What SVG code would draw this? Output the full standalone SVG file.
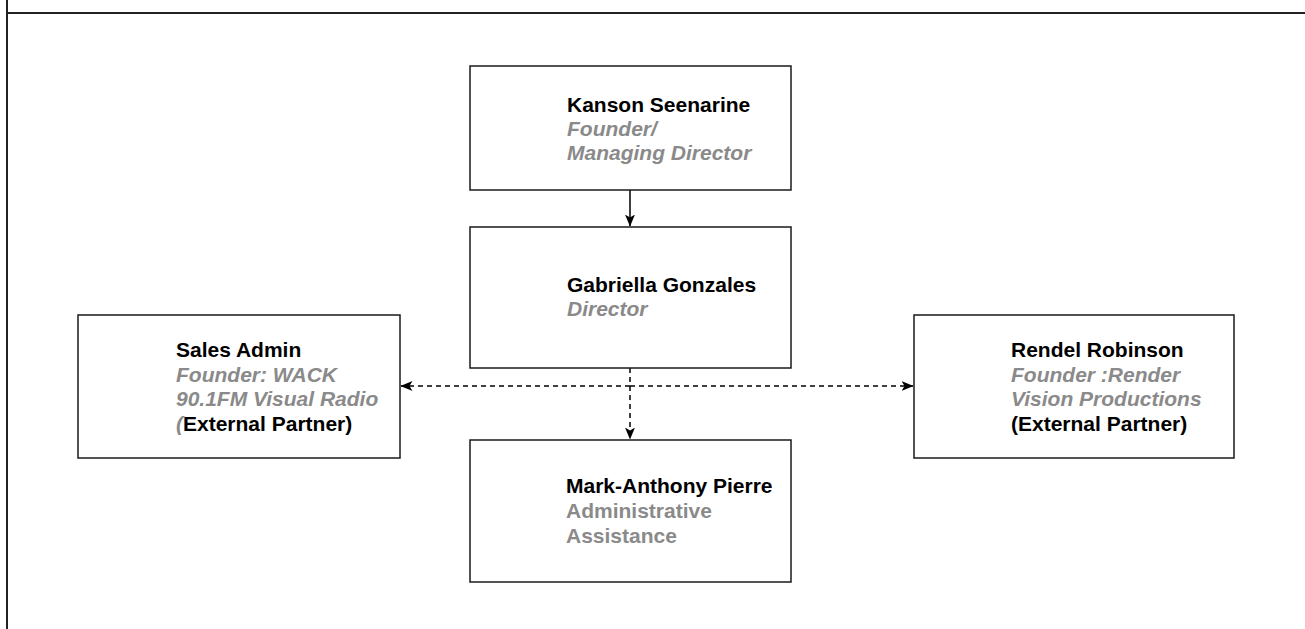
<svg xmlns="http://www.w3.org/2000/svg" width="1305" height="629" viewBox="0 0 1305 629">
<style>
.box{fill:#fff;stroke:#1a1a1a;stroke-width:1.5}
.t{font-family:"Liberation Sans",Arial,Helvetica,sans-serif;font-size:21px;font-weight:bold}
.name{fill:#000}
.role{fill:#8a8a8a;font-style:italic}
.role2{fill:#8a8a8a}
.ext{fill:#000;font-style:normal}
.edge{fill:none;stroke:#000;stroke-width:1.5}
.dash{stroke-dasharray:5 4}
.frame{fill:none;stroke:#222;stroke-width:2}
</style>
<defs>
<marker id="arr" viewBox="0 0 12 10" refX="11.5" refY="5" markerWidth="12" markerHeight="10" markerUnits="userSpaceOnUse" orient="auto">
<path d="M0,0 L12,5 L0,10 L3,5 z" fill="#000"/>
</marker>
</defs>
<g id="frame">
<line class="frame" x1="7" y1="0" x2="7" y2="629"/>
<line class="frame" x1="6" y1="13" x2="1305" y2="13"/>
</g>
<g id="connectors">
<line class="edge" x1="630" y1="190" x2="630" y2="226" marker-end="url(#arr)"/>
<line class="edge dash" x1="630" y1="368" x2="630" y2="439" marker-end="url(#arr)"/>
<line class="edge dash" x1="630" y1="386" x2="401" y2="386" marker-end="url(#arr)"/>
<line class="edge dash" x1="630" y1="386" x2="913" y2="386" marker-end="url(#arr)"/>
</g>
<g id="kanson">
<rect class="box" x="470" y="66" width="321" height="124"/>
<text class="t" x="567" y="112"><tspan class="name">Kanson Seenarine</tspan><tspan class="role" x="567" y="136">Founder/</tspan><tspan class="role" x="567" y="160">Managing Director</tspan></text>
</g>
<g id="gabriella">
<rect class="box" x="470" y="227" width="321" height="141"/>
<text class="t" x="567" y="292"><tspan class="name">Gabriella Gonzales</tspan><tspan class="role" x="567" y="316">Director</tspan></text>
</g>
<g id="sales">
<rect class="box" x="78" y="315" width="322" height="143"/>
<text class="t" x="176" y="357"><tspan class="name">Sales Admin</tspan><tspan class="role" x="176" y="381.5">Founder: WACK</tspan><tspan class="role" x="176" y="406">90.1FM Visual Radio</tspan><tspan class="role" x="176" y="430.5">(</tspan><tspan class="ext">External Partner)</tspan></text>
</g>
<g id="rendel">
<rect class="box" x="914" y="315" width="320" height="143"/>
<text class="t" x="1011" y="357"><tspan class="name">Rendel Robinson</tspan><tspan class="role" x="1011" y="381.5">Founder :Render</tspan><tspan class="role" x="1011" y="406">Vision Productions</tspan><tspan class="ext" x="1011" y="430.5">(External Partner)</tspan></text>
</g>
<g id="mark">
<rect class="box" x="470" y="440" width="321" height="142"/>
<text class="t" x="566" y="493"><tspan class="name">Mark-Anthony Pierre</tspan><tspan class="role2" x="566" y="518">Administrative</tspan><tspan class="role2" x="566" y="543">Assistance</tspan></text>
</g>
</svg>
